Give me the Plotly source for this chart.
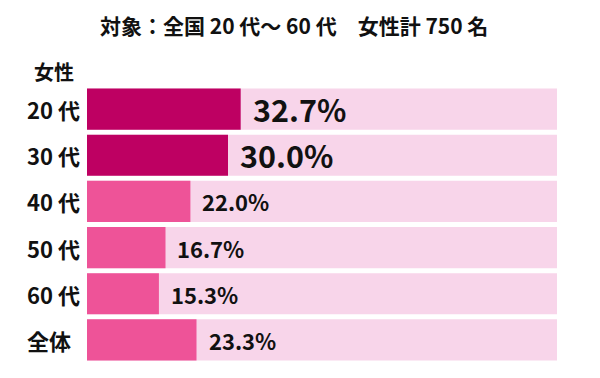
import plotly.graph_objects as go

categories = ["20 代", "30 代", "40 代", "50 代", "60 代", "全体"]
values = [32.7, 30.0, 22.0, 16.7, 15.3, 23.3]
labels = ["32.7%", "30.0%", "22.0%", "16.7%", "15.3%", "23.3%"]
full_scale = [100, 100, 100, 100, 100, 100]
title_text = "対象：全国 20 代～ 60 代　女性計 750 名"
group_label = "女性"

DARK = "#BE0062"
MID = "#EE5398"
LIGHT = "#F8D5EA"
FONT = "Noto Sans CJK JP"
INK = "#111111"

L, R, T, B = 87, 43, 86, 15
PW, PH = 600 - L - R, 378 - T - B

bar_colors = [DARK if i < 2 else MID for i in range(len(values))]
text_sizes = [30.5 if i < 2 else 22 for i in range(len(values))]

fig = go.Figure()
fig.add_trace(go.Bar(y=categories, x=full_scale, orientation="h",
                     marker=dict(color=LIGHT, line=dict(width=0)),
                     hoverinfo="skip", showlegend=False))
fig.add_trace(go.Bar(y=categories, x=values, orientation="h",
                     marker=dict(color=bar_colors, line=dict(width=0)),
                     showlegend=False))

ann = []
for c, v, t, s in zip(categories, values, labels, text_sizes):
    ann.append(dict(x=v, y=c, xref="x", yref="y", text=f"<b>{t}</b>",
                    showarrow=False, xanchor="left", xshift=10,
                    font=dict(family=FONT, size=s, color=INK)))
    ann.append(dict(x=(25 - L) / PW, y=c, xref="paper", yref="y", text=f"<b>{c}</b>",
                    showarrow=False, xanchor="left",
                    font=dict(family=FONT, size=22, color=INK)))

ann.append(dict(x=(294 - L) / PW, y=1 + (T - 25) / PH, xref="paper", yref="paper",
                text=f"<b>{title_text}</b>", showarrow=False,
                xanchor="center", yanchor="middle",
                font=dict(family=FONT, size=21, color=INK)))
ann.append(dict(x=(32 - L) / PW, y=1 + (T - 72) / PH, xref="paper", yref="paper",
                text=f"<b>{group_label}</b>", showarrow=False,
                xanchor="left", yanchor="middle",
                font=dict(family=FONT, size=20, color=INK)))

fig.update_layout(
    width=600, height=378,
    margin=dict(l=L, r=R, t=T, b=B),
    paper_bgcolor="white", plot_bgcolor="white",
    barmode="overlay", bargap=0.11,
    font=dict(family=FONT, color=INK),
    xaxis=dict(range=[0, 100], visible=False, fixedrange=True),
    yaxis=dict(categoryorder="array", categoryarray=categories,
               autorange=False, range=[5.5, -0.5], visible=False, fixedrange=True),
    annotations=ann,
)

fig.write_html("out.html")
